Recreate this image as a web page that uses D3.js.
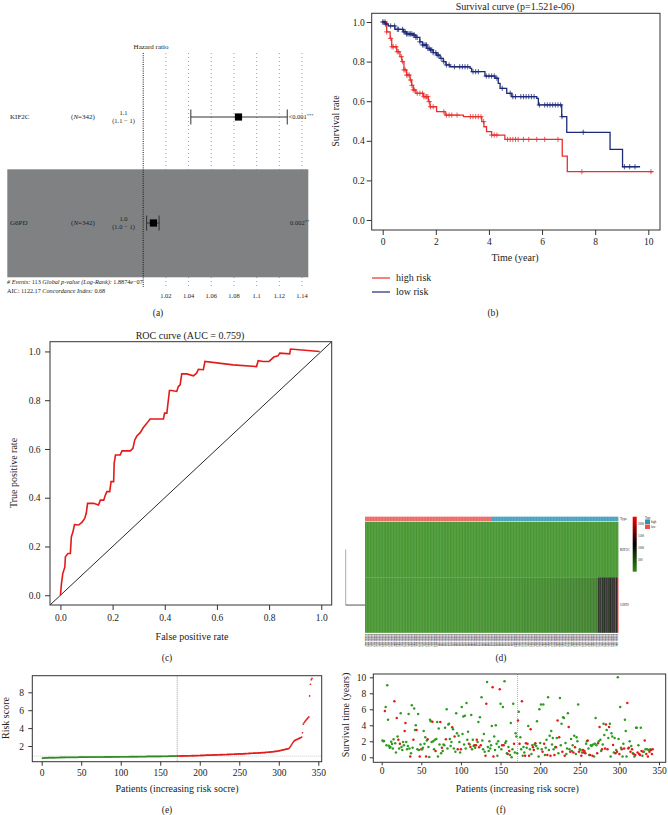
<!DOCTYPE html>
<html>
<head>
<meta charset="utf-8">
<script src="https://cdn.jsdelivr.net/npm/d3@7/dist/d3.min.js"></script>
<style>
html,body{margin:0;padding:0;background:#fff;}
svg{display:block;}
</style>
</head>
<body>
<svg id="fig" width="668" height="815"></svg>
<script>
// ================= DATA =================
// (a) forest plot
const forestGenes = ["KIF2C", "G6PD"];
const forestN = [342, 342];
const forestHR = [1.084, 1.009];
const forestLo = [1.042, 1.003];
const forestHi = [1.127, 1.014];
const forestHRText = ["1.1", "1.0"];
const forestCIText = ["(1.1 \u2212 1)", "(1.0 \u2212 1)"];
const forestP = ["<0.001", "0.002"];
const forestStars = ["***", "**"];
const forestTicks = [1.02, 1.04, 1.06, 1.08, 1.1, 1.12, 1.14];

// (b) Kaplan-Meier
const kmHighT = [0,0.15,0.28,0.34,0.53,0.65,0.72,0.8,0.9,1.03,1.09,1.15,1.25,1.53,1.72,1.78,2.03,2.35,3.04,3.73,3.81,3.91,4.1,4.6,6.76,6.95];
const kmHighS = [1,0.95,0.917,0.875,0.85,0.825,0.8,0.758,0.732,0.707,0.68,0.657,0.64,0.623,0.598,0.572,0.547,0.53,0.522,0.497,0.471,0.446,0.429,0.407,0.323,0.244];
const kmHighEnd = 10.19;
const kmHighCens = [0.1,0.15,0.3,0.35,0.4,0.5,0.55,0.6,0.7,0.75,0.8,0.85,0.9,0.95,1.0,1.05,1.1,1.15,1.2,1.3,1.4,1.5,1.55,1.6,1.65,1.7,1.75,1.8,1.9,2.3,2.4,2.5,2.6,2.8,3.3,3.4,3.5,3.6,3.7,3.8,4.1,4.2,4.3,4.7,4.8,4.9,5.0,5.1,5.3,5.5,5.8,6.1,6.6,7.5,10.1];
const kmLowT = [0,0.09,0.21,0.46,0.78,0.9,1.15,1.25,1.4,1.5,1.66,1.78,1.9,2.03,2.16,2.28,2.38,2.53,3.29,3.35,3.85,4.23,4.35,4.42,4.67,4.86,5.8,5.86,6.74,6.93,8.56,9.03];
const kmLowS = [1,0.99,0.98,0.963,0.95,0.94,0.934,0.922,0.9,0.884,0.867,0.859,0.845,0.833,0.816,0.8,0.783,0.774,0.766,0.749,0.727,0.716,0.69,0.665,0.64,0.623,0.614,0.581,0.522,0.443,0.357,0.269];
const kmLowEnd = 9.69;
const kmLowCens = [0.0,0.05,0.1,0.3,0.45,0.55,0.6,0.75,0.8,0.85,0.9,0.95,1.0,1.05,1.1,1.15,1.2,1.25,1.3,1.4,1.5,1.55,1.6,1.65,1.7,1.75,1.8,1.85,1.9,2.0,2.05,2.1,2.2,2.3,2.4,2.5,2.7,2.9,3.0,3.1,3.2,3.4,3.5,3.6,3.9,4.0,4.1,4.2,4.3,4.5,4.8,4.9,5.0,5.2,5.3,5.4,5.5,5.6,5.7,5.9,6.1,6.2,6.3,6.4,6.5,6.6,6.7,6.75,7.55,9.1,9.3,9.5];
const kmXTicks = [0,2,4,6,8,10];
const kmYTicks = [0,0.2,0.4,0.6,0.8,1.0];
const kmLegend = ["high risk", "low risk"];

// (c) ROC
const rocFPR = [0,0.004,0.009,0.017,0.019,0.029,0.038,0.042,0.048,0.054,
  0.07,0.083,0.093,0.099,0.104,0.127,0.146,0.153,0.166,0.172,
  0.178,0.189,0.194,0.204,0.206,0.211,0.229,0.236,0.268,0.278,
  0.285,0.293,0.306,0.318,0.331,0.344,0.395,0.399,0.408,0.418,
  0.427,0.446,0.452,0.459,0.465,0.484,0.51,0.522,0.529,0.548,
  0.554,0.662,0.752,0.758,0.777,0.8,0.818,0.834,0.841,0.879,
  0.882,0.994];
const rocTPR = [0,0.048,0.089,0.116,0.158,0.171,0.171,0.24,0.26,0.29,
  0.288,0.30,0.315,0.336,0.377,0.377,0.37,0.39,0.39,0.41,
  0.425,0.425,0.466,0.466,0.541,0.575,0.575,0.592,0.592,0.603,
  0.637,0.653,0.667,0.688,0.705,0.723,0.723,0.747,0.747,0.84,
  0.84,0.836,0.856,0.863,0.908,0.908,0.9,0.911,0.927,0.925,
  0.959,0.945,0.938,0.962,0.959,0.959,0.977,0.982,0.993,0.99,
  1.01,1.0];
const rocTicks = [0,0.2,0.4,0.6,0.8,1.0];

// (d) heatmap expression (patients ordered by risk)
const heatGenes = ["KIF2C", "G6PD"];
const kif2cExpr = [22,35,18,41,27,30,15,38,25,44,20,33,28,47,19,36,24,40,31,
17,29,43,23,37,26,14,39,32,21,45,28,34,16,42,25,30,38,20,
36,24,48,19,31,27,40,22,35,18,44,29,26,37,15,41,33,23,39,
28,20,46,32,25,38,17,43,30,24,36,21,49,27,34,19,40,26,31,
23,42,29,35,18,45,26,33,21,39,30,16,47,25,37,28,22,41,34,
27,19,38,31,44,24,36,20,42,29,33,25,48,18,35,40,23,30,37,
21,46,28,34,26,39,17,43,32,24,37,30,22,45,27,36,19,41,33,
29,25,40,20,47,31,35,23,38,28,44,18,34,26,42,30,21,39,36,
24,43,27,33,19,48,30,37,22,41,26,35,29,46,20,38,32,25,40,
31,22,45,28,36,24,42,19,34,30,47,27,39,23,44,26,37,33,21,
35,29,41,25,38,20,46,32,27,43,24,36,30,49,22,40,28,34,26,
39,23,44,31,26,37,21,48,33,28,42,25,35,30,45,19,38,27,41,
26,40,30,36,22,47,29,34,24,43,31,38,20,46,28,35,25,42,32,
33,27,45,21,39,30,44,26,37,23,48,32,28,41,35,24,40,29,36,
30,42,25,38,28,46,22,35,31,44,27,39,24,47,33,26,43,21,37,
41,28,34,24,45,31,37,27,49,23,36,30,42,26,38,32,22,46,29,
25,44,33,39,20,42,35,28,46,31,24,40,34,27,48,22,37,30,43,
36,26,47,30,41,24,38,33,29,45,35,21,43,28,40,32,25,48,34];
const g6pdExpr = [30,45,22,60,35,28,70,40,32,50,25,38,65,30,48,42,22,55,35,75,32,45,28,62,40,30,50,70,35,25,58,42,30,48,68,38,28,52,40,32,60,45,25,72,35,42,30,55,48,38,
65,30,50,40,28,75,45,35,60,32,42,70,30,48,55,38,28,62,45,35,80,40,50,32,58,42,72,35,48,30,65,52,38,45,78,35,55,42,30,62,48,70,40,52,35,82,45,60,38,50,
55,75,42,65,48,85,38,60,52,72,45,68,80,40,62,50,88,48,58,70,42,78,60,50,90,55,48,72,65,85,52,62,45,80,70,58,92,50,75,60,68,48,85,55,78,62,95,52,72,65,
80,58,70,88,62,100,75,55,82,68,92,60,78,72,105,65,85,70,98,62,80,90,75,108,68,88,82,70,100,78,95,72,110,85,80,92,75,102,88,82,115,70,95,90,105,80,98,112,85,100,
92,120,88,105,100,128,95,110,115,90,130,102,108,122,98,118,135,105,112,125,100,140,120,108,132,115,128,145,110,122,138,118,150,130,125,142,120,155,135,128,148,132,160,140,130,152,145,135,165,142,
150,170,138,158,148,175,155,145,180,160,152,172,165,155,185,162,178,170,190,158,175,195,168,182,200,172,188,180,205,178,192,210,185,198,190,215,182,205,220,195,200,225,210,190,230,208,220,235,212,228,
215,240,222,235,250,228,245,260,238,255,270,250,280,260,290,
1150,500,1100,1200,450,1150,600,1100,1050,400,1200,1150,550,1100,700,1150,1200,500,1100,1150,650,1200,1100,450,1150,1300,
2400];
const heatLegendTicks = [500, 1000, 1500, 2000];
const typeLabels = ["high", "low"];

// (e) risk score, sorted
const riskScore = [0.64,0.66,0.67,0.67,0.68,0.68,0.68,0.69,0.69,0.69,
0.69,0.70,0.70,0.70,0.70,0.70,0.71,0.71,0.71,0.71,
0.71,0.71,0.72,0.72,0.72,0.72,0.72,0.72,0.72,0.73,
0.73,0.73,0.73,0.73,0.73,0.73,0.73,0.74,0.74,0.74,
0.74,0.74,0.74,0.74,0.74,0.74,0.75,0.75,0.75,0.75,
0.75,0.75,0.75,0.75,0.75,0.75,0.76,0.76,0.76,0.76,
0.76,0.76,0.76,0.76,0.76,0.76,0.76,0.77,0.77,0.77,
0.77,0.77,0.77,0.77,0.77,0.77,0.77,0.77,0.78,0.78,
0.78,0.78,0.78,0.78,0.78,0.78,0.78,0.78,0.78,0.79,
0.79,0.79,0.79,0.79,0.79,0.79,0.79,0.79,0.79,0.80,
0.80,0.80,0.80,0.80,0.80,0.80,0.80,0.80,0.80,0.80,
0.81,0.81,0.81,0.81,0.81,0.81,0.81,0.81,0.81,0.81,
0.81,0.82,0.82,0.82,0.82,0.82,0.82,0.82,0.82,0.82,
0.82,0.82,0.83,0.83,0.83,0.83,0.83,0.83,0.83,0.83,
0.83,0.83,0.84,0.84,0.84,0.84,0.84,0.84,0.84,0.84,
0.84,0.85,0.85,0.85,0.85,0.85,0.85,0.85,0.85,0.85,
0.86,0.86,0.86,0.86,0.86,0.86,0.86,0.87,0.87,0.87,
0.87,
0.88,0.88,0.88,0.88,0.89,0.89,0.89,0.89,0.89,0.90,
0.90,0.90,0.90,0.90,0.91,0.91,0.91,0.91,0.92,0.92,
0.92,0.92,0.93,0.93,0.93,0.93,0.94,0.94,0.94,0.95,
0.95,0.95,0.95,0.96,0.96,0.96,0.97,0.97,0.97,0.98,
0.98,0.98,0.99,0.99,0.99,1.00,1.00,1.00,1.01,1.01,
1.01,1.02,1.02,1.02,1.03,1.03,1.03,1.04,1.04,1.04,
1.05,1.05,1.05,1.06,1.06,1.06,1.07,1.07,1.07,1.08,
1.08,1.08,1.09,1.09,1.10,1.10,1.10,1.11,1.11,1.12,
1.12,1.12,1.13,1.13,1.14,1.14,1.15,1.15,1.16,1.16,
1.17,1.17,1.18,1.18,1.19,1.19,1.20,1.20,1.21,1.21,
1.22,1.22,1.23,1.23,1.24,1.24,1.25,1.25,1.26,1.27,
1.27,1.28,1.29,1.30,1.30,1.31,1.32,1.33,1.34,1.35,
1.36,1.37,1.38,1.39,1.40,1.41,1.43,1.44,1.46,1.48,
1.50,1.52,1.54,1.56,1.58,1.60,1.62,1.64,1.66,1.68,
1.70,1.75,1.85,1.98,2.12,2.26,2.40,2.52,2.60,2.66,
2.70,2.74,2.78,2.82,2.86,2.90,2.95,3.00,3.48,4.45,
4.60,4.72,4.85,4.95,5.05,5.15,5.25,7.60,8.90,9.40,
9.55];
const riskXTicks = [0,50,100,150,200,250,300,350];
const riskYTicks = [2,4,6,8];

// (f) survival status
const survTime = [2.1,2.0,2.05,5.8,6.3,1.5,9.0,4.7,1.45,1.2,
1.3,1.95,1.65,1.1,2.25,7.0,1.75,0.6,4.9,2.6,
2.2,1.1,1.7,5.5,1.3,0.9,1.9,1.5,3.3,4.3,
1.9,1.0,1.4,5.4,1.1,0.1,0.5,6.5,1.2,2.2,
6.1,3.4,4.0,3.4,1.0,5.4,0.9,0.1,1.6,1.0,
1.0,1.2,3.3,1.7,2.5,0.1,2.1,2.25,1.3,0.05,
4.7,4.5,1.9,4.45,2.0,1.0,2.2,0.8,2.3,4.4,
0.1,3.6,1.6,4.4,0.5,1.2,0.8,1.6,1.5,3.7,
2.25,6.0,1.1,4.1,4.2,2.3,1.4,1.9,3.75,3.5,
1.1,2.6,0.7,5.5,3.0,1.0,2.7,1.9,0.6,1.0,
6.3,2.9,5.1,1.6,5.2,1.1,6.8,2.2,3.2,1.7,
1.6,1.3,5.3,1.0,2.2,1.4,1.5,1.2,1.5,2.2,
1.9,4.4,1.25,5.0,1.5,7.5,2.1,1.0,2.9,0.7,
0.2,6.7,9.4,1.3,0.8,2.0,1.1,1.5,3.9,8.75,
0.1,2.6,0.9,4.0,1.7,0.2,2.0,1.3,8.5,6.7,
1.0,1.5,6.3,1.5,9.5,1.8,2.0,0.5,0.4,1.3,
0.8,0.3,4.3,0.0,1.0,6.7,1.7,0.6,3.0,2.6,0.5,
4.6,5.7,1.7,2.5,1.0,7.0,0.2,1.3,0.6,0.2,
1.75,1.2,1.7,3.9,0.2,1.0,3.5,0.4,1.5,1.25,
0.9,1.6,1.75,1.4,4.5,1.1,0.1,6.0,1.8,6.6,
1.0,0.7,6.6,1.7,0.3,1.2,2.2,0.3,7.5,0.9,
2.7,0.2,3.3,1.6,2.4,1.0,0.3,1.3,1.25,2.4,
4.6,0.5,2.5,7.4,1.5,4.2,0.7,5.0,4.9,0.2,
1.8,0.4,1.1,5.5,3.8,1.0,0.7,2.3,0.8,1.5,
0.6,2.7,1.25,0.4,2.5,2.0,6.6,0.7,1.0,0.9,
0.2,0.6,0.9,0.6,0.8,0.5,1.7,2.0,2.1,1.1,
0.3,0.3,1.5,1.4,0.2,1.6,0.1,1.7,4.9,1.5,
0.5,1.75,2.0,3.8,2.2,0.8,1.0,1.6,4.2,2.8,
1.1,4.1,3.4,1.0,2.4,3.8,4.2,0.1,3.0,2.6,
1.55,0.6,2.4,0.5,0.9,0.7,10.0,2.3,0.4,6.3,
1.2,1.0,0.1,1.7,1.1,4.7,3.3,0.1,6.8,1.1,
1.2,2.0,0.7,1.4,1.0,0.5,0.4,0.1,0.3,3.7,
3.7,0.6,1.5,0.4,0.3,3.7,0.8,0.2,0.7,0.7,
2.1,1.0,0.4,1.0,0.1,0.9,0.7,1.0,0.9,0.4,1.0];
const survStatus = [0,0,0,1,0,0,0,0,0,0,
0,0,0,0,0,1,0,0,1,0,
1,0,1,0,0,0,0,0,1,1,
0,0,0,0,0,1,0,0,0,1,
0,0,0,1,0,0,0,1,0,1,
0,0,0,0,0,1,0,1,0,0,
0,0,0,1,0,0,0,1,0,0,
0,0,0,1,0,1,0,0,0,0,
1,0,0,0,0,0,0,0,1,0,
0,1,0,0,0,1,0,0,0,1,
0,0,0,0,0,0,0,0,0,1,
0,1,0,0,0,0,1,0,1,1,
0,0,1,0,1,0,0,0,0,0,
1,1,0,0,0,0,0,0,0,1,
1,0,0,0,0,0,0,0,1,0,
0,1,0,1,0,0,0,0,1,0,
1,0,0,0,0,0,1,0,0,0,0,
1,0,1,0,0,1,0,0,0,1,
1,0,1,0,1,0,1,0,0,1,
1,0,1,0,0,0,0,0,0,0,
0,1,0,1,0,0,0,1,0,0,
0,1,0,0,0,0,1,0,1,0,
1,0,1,0,0,0,1,0,0,1,
0,0,0,0,1,0,1,0,0,0,
1,0,1,0,0,0,0,1,0,0,
1,0,1,1,1,1,0,0,1,0,
0,1,0,0,1,0,0,0,0,0,
1,1,0,1,0,0,1,0,0,0,
1,1,0,1,0,1,0,0,0,0,
1,0,0,1,0,1,0,0,1,0,
0,1,0,0,1,0,0,0,1,0,
1,0,1,0,1,0,1,0,1,0,
0,1,0,1,1,0,1,0,1,0,
1,0,1,0,1,0,1,0,1,1,1];
const survYTicks = [0,2,4,6,8,10];

// ================= DRAWING =================
const FONT = '"Liberation Serif","Times New Roman",serif';
const INK = "#222";
const svg = d3.select("#fig").attr("font-family", FONT);

function styleAxis(g, size) {
  g.attr("font-family", FONT).attr("font-size", size);
  g.select(".domain").remove();
  g.selectAll(".tick line").attr("stroke", "#333");
  g.selectAll(".tick text").attr("fill", INK);
}
function label(g, x, y, s, size, anchor, rot) {
  const t = g.append("text").attr("font-size", size).attr("fill", INK)
    .attr("text-anchor", anchor || "middle").text(s);
  if (rot) t.attr("transform", `translate(${x},${y}) rotate(${rot})`);
  else t.attr("x", x).attr("y", y);
  return t;
}

// ---------- (a) Forest plot ----------
const ga = svg.append("g");
const fx = d3.scaleLinear().domain([1, 1.14]).range([143.2, 302]);
ga.selectAll("line.grid").data(forestTicks).join("line")
  .attr("x1", d => fx(d)).attr("x2", d => fx(d)).attr("y1", 53).attr("y2", 289)
  .attr("stroke", "#555").attr("stroke-width", 0.7).attr("stroke-dasharray", "0.8,3.2");
ga.append("rect").attr("x", 7.3).attr("y", 169.3).attr("width", 301).attr("height", 108)
  .attr("fill", "#7f8183");
ga.append("line").attr("x1", fx(1)).attr("x2", fx(1)).attr("y1", 53).attr("y2", 287)
  .attr("stroke", "#111").attr("stroke-width", 1).attr("stroke-dasharray", "1,1.2");
label(ga, 151, 48.5, "Hazard ratio", 7);
const rowY = [117, 223];
forestGenes.forEach((gname, i) => {
  const y = rowY[i];
  label(ga, 10, y + 2.3, gname, 7, "start");
  const t = ga.append("text").attr("x", 83).attr("y", y + 2.3).attr("font-size", 7)
    .attr("text-anchor", "middle").attr("fill", INK);
  t.append("tspan").text("(");
  t.append("tspan").attr("font-style", "italic").text("N");
  t.append("tspan").text("=" + forestN[i] + ")");
  label(ga, 123.5, y - 2, forestHRText[i], 6.5);
  label(ga, 123.5, y + 5.7, forestCIText[i], 6.5);
  ga.append("line").attr("x1", fx(forestLo[i])).attr("x2", fx(forestHi[i]))
    .attr("y1", y).attr("y2", y).attr("stroke", "#333").attr("stroke-width", 1);
  [forestLo[i], forestHi[i]].forEach(v => ga.append("line")
    .attr("x1", fx(v)).attr("x2", fx(v)).attr("y1", y - 7.5).attr("y2", y + 7.5)
    .attr("stroke", "#333").attr("stroke-width", 1));
  ga.append("rect").attr("x", fx(forestHR[i]) - 3.6).attr("y", y - 3.6)
    .attr("width", 7.2).attr("height", 7.2).attr("fill", "#000");
  const p = ga.append("text").attr("x", i === 0 ? 288.5 : 290).attr("y", y + 2.3)
    .attr("font-size", 6.5).attr("fill", INK);
  p.append("tspan").text(forestP[i]);
  p.append("tspan").attr("font-size", 4.5).attr("dy", -2).text(forestStars[i]);
});
const foot1 = ga.append("text").attr("x", 7).attr("y", 283.5).attr("font-size", 6.2).attr("fill", INK);
foot1.append("tspan").attr("font-style", "italic").text("# Events: ");
foot1.append("tspan").text("113 ");
foot1.append("tspan").attr("font-style", "italic").text("Global p-value (Log-Rank): ");
foot1.append("tspan").text("1.8874e\u221207");
const foot2 = ga.append("text").attr("x", 7).attr("y", 292.5).attr("font-size", 6.2).attr("fill", INK);
foot2.append("tspan").text("AIC: 1122.17 ");
foot2.append("tspan").attr("font-style", "italic").text("Concordance Index: ");
foot2.append("tspan").text("0.68");
ga.selectAll("text.ft").data(forestTicks).join("text").attr("class", "ft")
  .attr("x", d => fx(d)).attr("y", 297.5).attr("font-size", 6.5).attr("text-anchor", "middle")
  .attr("fill", INK).text(d => String(d));
label(ga, 158, 316, "(a)", 9.5);

// ---------- (b) Survival curve ----------
const gb = svg.append("g");
const bx = d3.scaleLinear().domain([0, 10]).range([382.7, 648.3]);
const by = d3.scaleLinear().domain([0, 1]).range([220, 22]);
const KM_RED = "#e8302e", KM_BLUE = "#1d2a78";
gb.append("rect").attr("x", 371.7).attr("y", 13.3).attr("width", 288.3).attr("height", 216.7)
  .attr("fill", "none").attr("stroke", "#333").attr("stroke-width", 1);
gb.append("g").attr("transform", "translate(0,230)")
  .call(d3.axisBottom(bx).tickValues(kmXTicks).tickSize(5).tickPadding(3.6).tickFormat(d3.format("d")))
  .call(g => styleAxis(g, 9.5));
gb.append("g").attr("transform", "translate(371.7,0)")
  .call(d3.axisLeft(by).tickValues(kmYTicks).tickSize(5).tickPadding(2).tickFormat(d3.format(".1f")))
  .call(g => styleAxis(g, 9.5));
function kmPts(T, S, end) {
  const pts = T.map((t, i) => [t, S[i]]);
  pts.push([end, S[S.length - 1]]);
  return pts;
}
const kmLine = d3.line().x(d => bx(d[0])).y(d => by(d[1])).curve(d3.curveStepAfter);
function survAt(T, S, t) { return S[Math.max(0, d3.bisectRight(T, t) - 1)]; }
[[kmHighT, kmHighS, kmHighEnd, kmHighCens, KM_RED], [kmLowT, kmLowS, kmLowEnd, kmLowCens, KM_BLUE]]
  .forEach(([T, S, E, C, col]) => {
    gb.append("path").attr("d", kmLine(kmPts(T, S, E))).attr("fill", "none")
      .attr("stroke", col).attr("stroke-width", 1.3);
    gb.append("path").attr("fill", "none").attr("stroke", col).attr("stroke-width", 0.8)
      .attr("d", C.map(t => { const x = bx(t), y = by(survAt(T, S, t));
        return `M${x - 2.6},${y}h5.2M${x},${y - 2.6}v5.2`; }).join(""));
  });
label(gb, 515, 9.5, "Survival curve (p=1.521e-06)", 10);
label(gb, 515, 260.5, "Time (year)", 10);
label(gb, 338.5, 121, "Survival rate", 10, "middle", -90);
[KM_RED, KM_BLUE].forEach((col, i) => {
  const y = 278 + i * 14;
  gb.append("line").attr("x1", 372).attr("x2", 390).attr("y1", y).attr("y2", y)
    .attr("stroke", col).attr("stroke-width", 1.2);
  label(gb, 396, y + 3.3, kmLegend[i], 10, "start");
});
label(gb, 493, 316, "(b)", 9.5);

// ---------- (c) ROC ----------
const gc = svg.append("g");
const cx = d3.scaleLinear().domain([-0.04, 1.04]).range([50, 331.7]);
const cy = d3.scaleLinear().domain([-0.04, 1.04]).range([605, 341.7]);
gc.append("line").attr("x1", cx(-0.04)).attr("y1", cy(-0.04)).attr("x2", cx(1.04)).attr("y2", cy(1.04))
  .attr("stroke", "#111").attr("stroke-width", 0.9);
gc.append("path").attr("d", d3.line().x(d => cx(d[0])).y(d => cy(d[1]))(rocFPR.map((f, i) => [f, rocTPR[i]])))
  .attr("fill", "none").attr("stroke", "#e41a1a").attr("stroke-width", 1.6);
gc.append("rect").attr("x", 50).attr("y", 341.7).attr("width", 281.7).attr("height", 263.3)
  .attr("fill", "none").attr("stroke", "#333").attr("stroke-width", 1);
gc.append("g").attr("transform", "translate(0,605)")
  .call(d3.axisBottom(cx).tickValues(rocTicks).tickSize(5).tickPadding(4.6).tickFormat(d3.format(".1f")))
  .call(g => styleAxis(g, 9.5));
gc.append("g").attr("transform", "translate(50,0)")
  .call(d3.axisLeft(cy).tickValues(rocTicks).tickSize(5).tickPadding(4.5).tickFormat(d3.format(".1f")))
  .call(g => styleAxis(g, 9.5));
label(gc, 190, 338.5, "ROC curve (AUC = 0.759)", 10);
label(gc, 192, 639.5, "False positive rate", 10);
label(gc, 17, 473, "True positive rate", 10, "middle", -90);
label(gc, 167, 661, "(c)", 9.5);

// ---------- (d) Heatmap ----------
const gd = svg.append("g");
const nP = riskScore.length;
const cutoff = d3.median(riskScore);
const hx = d3.scaleBand().domain(d3.range(nP)).range([365, 618.3]);
const heatColor = d3.scaleLinear().domain([0, 1150, 2300]).range(["#2c8a12", "#000000", "#ff0000"]).clamp(true);
const TYPE_HIGH = "#2b93b4", TYPE_LOW = "#e8524f";
gd.selectAll("rect.type").data(riskScore).join("rect").attr("class", "type")
  .attr("x", (d, i) => hx(i)).attr("y", 516.7).attr("width", hx.bandwidth() + 0.05).attr("height", 4.3)
  .attr("fill", d => d > cutoff ? TYPE_HIGH : TYPE_LOW);
const rowsTop = [521.7, 577.3], rowH = 55.5;
[kif2cExpr, g6pdExpr].forEach((arr, r) => {
  gd.selectAll("rect.h" + r).data(arr).join("rect").attr("class", "h" + r)
    .attr("x", (d, i) => hx(i)).attr("y", rowsTop[r]).attr("width", hx.bandwidth() + 0.05)
    .attr("height", rowH).attr("fill", d => heatColor(d));
});
// column (sample) labels
const sampleIds = d3.range(nP).map(i => "TCGA-" + String(1001 + i));
gd.selectAll("text.sid").data(sampleIds).join("text").attr("class", "sid")
  .attr("transform", (d, i) => `translate(${hx(i) + hx.bandwidth() / 2},634.3) rotate(90)`)
  .attr("font-size", 2.4).attr("fill", "#111").attr("dy", "0.3em").text(d => d);
// row dendrogram
gd.append("line").attr("x1", 345.7).attr("x2", 345.7).attr("y1", rowsTop[0] + rowH / 2).attr("y2", rowsTop[1] + rowH / 2)
  .attr("stroke", "#aaa").attr("stroke-width", 1);
gd.append("line").attr("x1", 345.7).attr("x2", 365).attr("y1", rowsTop[1] + rowH / 2).attr("y2", rowsTop[1] + rowH / 2)
  .attr("stroke", "#555").attr("stroke-width", 1);
label(gd, 620, 520, "Type", 3.5, "start");
heatGenes.forEach((gname, r) => label(gd, 620, rowsTop[r] + rowH / 2 + 1.2, gname, 3.5, "start"));
// colour legend
const defs = svg.append("defs");
const grad = defs.append("linearGradient").attr("id", "hg").attr("x1", 0).attr("x2", 0).attr("y1", 1).attr("y2", 0);
[0, 0.5, 1].forEach(o => grad.append("stop").attr("offset", o).attr("stop-color", heatColor(o * 2300)));
const ly = d3.scaleLinear().domain([0, 2300]).range([571.7, 516.7]);
gd.append("rect").attr("x", 632.7).attr("y", 516.7).attr("width", 4).attr("height", 55).attr("fill", "url(#hg)");
heatLegendTicks.forEach(v => label(gd, 638, ly(v) + 1, String(v), 3, "start"));
label(gd, 645, 518.5, "Type", 3, "start");
[TYPE_HIGH, TYPE_LOW].forEach((c, i) => {
  gd.append("rect").attr("x", 645).attr("y", 519.5 + i * 5).attr("width", 5).attr("height", 4.5).attr("fill", c);
  label(gd, 651, 523 + i * 5, typeLabels[i], 3, "start");
});
label(gd, 501, 661, "(d)", 9.5);

// ---------- (e) Risk score ----------
const ge = svg.append("g");
const ex = d3.scaleLinear().domain([0, 350]).range([41.7, 318.3]);
const ey = d3.scaleLinear().domain([0, 8]).range([763.9, 692.3]);
ge.append("line").attr("x1", ex(nP / 2 + 0.5)).attr("x2", ex(nP / 2 + 0.5)).attr("y1", 675.7).attr("y2", 761.7)
  .attr("stroke", "#888").attr("stroke-width", 0.8).attr("stroke-dasharray", "1,1");
ge.append("line").attr("x1", 32.3).attr("x2", 321.7).attr("y1", ey(cutoff)).attr("y2", ey(cutoff))
  .attr("stroke", "#aaa").attr("stroke-width", 0.6).attr("stroke-dasharray", "1,1");
ge.selectAll("circle").data(riskScore).join("circle")
  .attr("cx", (d, i) => ex(i + 1)).attr("cy", d => ey(d)).attr("r", 0.85)
  .attr("fill", d => d > cutoff ? "#e31a1a" : "#2e8b22");
ge.append("rect").attr("x", 32.3).attr("y", 675.7).attr("width", 289.4).attr("height", 86)
  .attr("fill", "none").attr("stroke", "#333").attr("stroke-width", 1);
ge.append("g").attr("transform", "translate(0,761.7)")
  .call(d3.axisBottom(ex).tickValues(riskXTicks).tickSize(4).tickPadding(4).tickFormat(d3.format("d")))
  .call(g => styleAxis(g, 9.5));
ge.append("g").attr("transform", "translate(32.3,0)")
  .call(d3.axisLeft(ey).tickValues(riskYTicks).tickSize(4).tickPadding(4.3).tickFormat(d3.format("d")))
  .call(g => styleAxis(g, 9.5));
label(ge, 177, 791.5, "Patients (increasing risk socre)", 10);
label(ge, 8.5, 718, "Risk score", 10, "middle", -90);
label(ge, 167, 813, "(e)", 9.5);

// ---------- (f) Survival status ----------
const gf = svg.append("g");
const fx2 = d3.scaleLinear().domain([0, 350]).range([381.7, 659]);
const fy2 = d3.scaleLinear().domain([0, 10]).range([757.3, 677.3]);
gf.append("line").attr("x1", fx2(nP / 2 + 0.5)).attr("x2", fx2(nP / 2 + 0.5)).attr("y1", 674).attr("y2", 762.3)
  .attr("stroke", "#999").attr("stroke-width", 0.8).attr("stroke-dasharray", "1,1");
gf.selectAll("circle").data(survTime).join("circle")
  .attr("cx", (d, i) => fx2(i + 1)).attr("cy", d => fy2(d)).attr("r", 1.25)
  .attr("fill", (d, i) => survStatus[i] === 1 ? "#e31a1a" : "#2e9a22");
gf.append("rect").attr("x", 373.3).attr("y", 674).attr("width", 292.4).attr("height", 88.3)
  .attr("fill", "none").attr("stroke", "#333").attr("stroke-width", 1);
gf.append("g").attr("transform", "translate(0,762.3)")
  .call(d3.axisBottom(fx2).tickValues(riskXTicks).tickSize(3).tickPadding(2.2).tickFormat(d3.format("d")))
  .call(g => styleAxis(g, 9.5));
gf.append("g").attr("transform", "translate(373.3,0)")
  .call(d3.axisLeft(fy2).tickValues(survYTicks).tickSize(3.5).tickPadding(3.5).tickFormat(d3.format("d")))
  .call(g => styleAxis(g, 9.5));
label(gf, 517.3, 792, "Patients (increasing risk socre)", 10);
label(gf, 349, 715, "Survival time (years)", 10, "middle", -90);
label(gf, 501, 813, "(f)", 9.5);
</script>
</body>
</html>
